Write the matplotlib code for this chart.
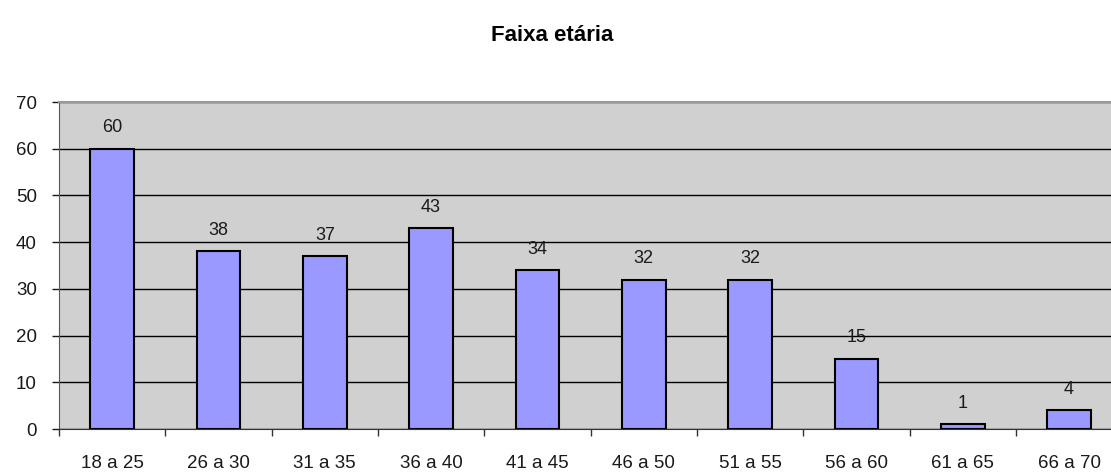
import numpy as np
import matplotlib.pyplot as plt

faixas = ["18 a 25", "26 a 30", "31 a 35", "36 a 40", "41 a 45",
          "46 a 50", "51 a 55", "56 a 60", "61 a 65", "66 a 70"]
contagem = [60, 38, 37, 43, 34, 32, 32, 15, 1, 4]

plt.rcParams["font.family"] = ["Liberation Sans", "DejaVu Sans"]

fig = plt.figure(figsize=(11.11, 4.76), dpi=100)
ax = fig.add_axes([0.0531, 0.0987, 0.957, 0.687])
ax.set_facecolor("#D0D0D0")

x = np.arange(len(faixas))
ax.bar(x, contagem, width=0.41, color="#9999FF", edgecolor="black",
       linewidth=1.5, zorder=3)
for xi, v in zip(x, contagem):
    ax.annotate(str(v), (xi, v), xytext=(0, 9), textcoords="offset points",
                ha="center", va="bottom", fontsize=13, color="#1a1a1a")

ax.set_xlim(-0.5, len(faixas) - 0.5)
ax.set_ylim(0, 70)
ax.set_yticks(range(0, 71, 10))
ax.yaxis.grid(True, color="black", linewidth=1.0, zorder=1)
ax.set_axisbelow(True)

ax.set_xticks(x)
ax.set_xticklabels(faixas)
ax.set_xticks(np.arange(-0.5, len(faixas), 1), minor=True)
ax.tick_params(axis="x", which="major", length=0, pad=19, labelsize=13.5,
               colors="#1a1a1a")
ax.tick_params(axis="x", which="minor", length=5, width=1, color="#333333")
ax.tick_params(axis="y", length=5, width=1, pad=11, labelsize=13.5,
               colors="#1a1a1a")

ax.spines["top"].set_color("#999999")
ax.spines["top"].set_linewidth(1.5)
ax.spines["right"].set_visible(False)
ax.spines["left"].set_color("#555555")
ax.spines["bottom"].set_color("#333333")

fig.text(0.497, 0.925, "Faixa etária", ha="center", va="center",
         fontsize=16, fontweight="bold")

fig.savefig("out.png", dpi=100)
